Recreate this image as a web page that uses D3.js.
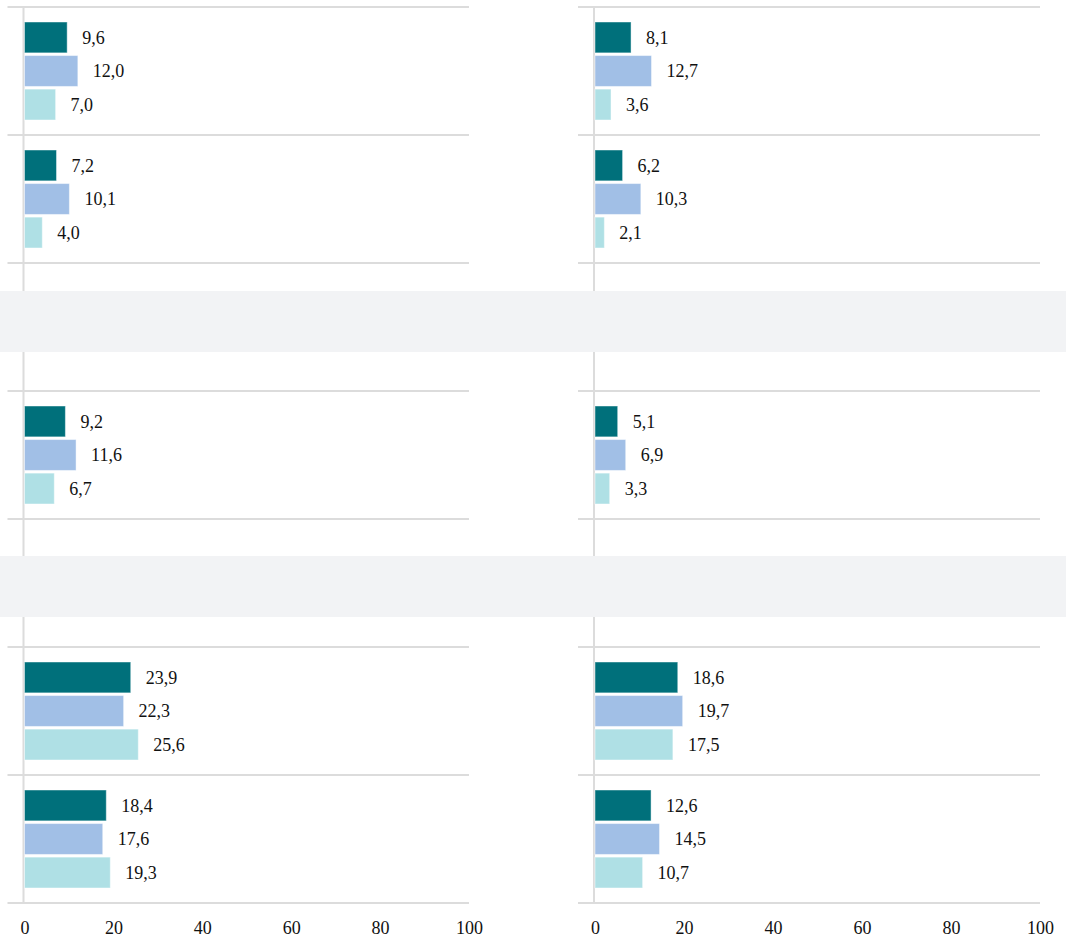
<!DOCTYPE html>
<html>
<head>
<meta charset="utf-8">
<script src="https://cdn.jsdelivr.net/npm/d3@7"></script>
<style>
  html, body { margin: 0; padding: 0; background: #fff; }
  svg { display: block; }
</style>
</head>
<body>
<svg id="chart" width="1066" height="943"></svg>
<script>
// ---- data ----
const rows = ["r0", "r1", "h1", "r3", "h2", "r5", "r6"];   // h* = group header rows (grey band)
const headerRows = ["h1", "h2"];
const series = ["s1", "s2", "s3"];
const seriesColors = ["#00707b", "#a1bfe6", "#afe0e5"];
const panels = ["left", "right"];
const leftValues = {
  r0: [9.6, 12.0, 7.0],
  r1: [7.2, 10.1, 4.0],
  r3: [9.2, 11.6, 6.7],
  r5: [23.9, 22.3, 25.6],
  r6: [18.4, 17.6, 19.3]
};
const rightValues = {
  r0: [8.1, 12.7, 3.6],
  r1: [6.2, 10.3, 2.1],
  r3: [5.1, 6.9, 3.3],
  r5: [18.6, 19.7, 17.5],
  r6: [12.6, 14.5, 10.7]
};
const xTicks = [0, 20, 40, 60, 80, 100];

// ---- layout ----
const W = 1066, H = 943;
const topY = 7, rowH = 128;
const panelX = { left: [24.5, 469], right: [595, 1040] };
const tickExt = 17;
const bandOffsets = { h1: 28, h2: 37 };
const bandH = 61;
const gridColor = "#dcdcdc";
const FONT = '"Liberation Serif"';

const svg = d3.select("#chart");
const y = d3.scaleBand().domain(rows).range([topY, topY + rowH * rows.length]);
const inner = d3.scaleBand().domain(series).range([15, 113]).paddingInner(0.08);
const fmt = v => d3.format(".1f")(v).replace(".", ",");

const panelData = { left: leftValues, right: rightValues };

panels.forEach(p => {
  const [x0, x1] = panelX[p];
  const x = d3.scaleLinear().domain([0, 100]).range([x0, x1]);
  const g = svg.append("g");

  // horizontal grid lines at row boundaries
  const bounds = rows.map(r => y(r)).concat([y(rows[rows.length - 1]) + y.bandwidth()]);
  g.selectAll("line.grid").data(bounds).join("line")
    .attr("x1", x0 - tickExt).attr("x2", x1)
    .attr("y1", d => d).attr("y2", d => d)
    .attr("stroke", gridColor).attr("stroke-width", 2);

  // vertical axis line
  g.append("line")
    .attr("x1", x(0) - 1).attr("x2", x(0) - 1)
    .attr("y1", bounds[0]).attr("y2", bounds[bounds.length - 1])
    .attr("stroke", gridColor).attr("stroke-width", 2);

  // bars
  const vals = panelData[p];
  const flat = [];
  Object.keys(vals).forEach(r => vals[r].forEach((v, i) => flat.push({ r, s: series[i], i, v })));

  g.selectAll("rect.bar").data(flat).join("rect")
    .attr("x", x(0))
    .attr("y", d => y(d.r) + inner(d.s))
    .attr("width", d => x(d.v) - x(0))
    .attr("height", inner.bandwidth())
    .attr("fill", d => seriesColors[d.i])
    .attr("stroke", "rgba(255,255,255,0.45)")
    .attr("stroke-width", 1);

  g.selectAll("text.val").data(flat).join("text")
    .attr("x", d => x(d.v) + 15)
    .attr("y", d => y(d.r) + inner(d.s) + inner.bandwidth() / 2)
    .attr("dy", "0.35em")
    .style("font-family", FONT)
    .style("font-size", "18px")
    .style("fill", "#111")
    .text(d => fmt(d.v));

  // x axis
  const axis = d3.axisBottom(x).tickValues(xTicks).tickSize(0).tickPadding(0).tickFormat(d3.format("d"));
  const ax = svg.append("g")
    .attr("transform", `translate(0,${bounds[bounds.length - 1]})`)
    .call(axis);
  ax.select(".domain").remove();
  ax.selectAll("text")
    .attr("y", 25)
    .attr("dy", "0.35em")
    .style("font-family", FONT)
    .style("font-size", "18px")
    .style("fill", "#111");
});

// grey group header bands
svg.selectAll("rect.band").data(headerRows).join("rect")
  .attr("x", 0).attr("width", W)
  .attr("y", d => y(d) + bandOffsets[d])
  .attr("height", bandH)
  .attr("fill", "#f2f3f5");
</script>
</body>
</html>
